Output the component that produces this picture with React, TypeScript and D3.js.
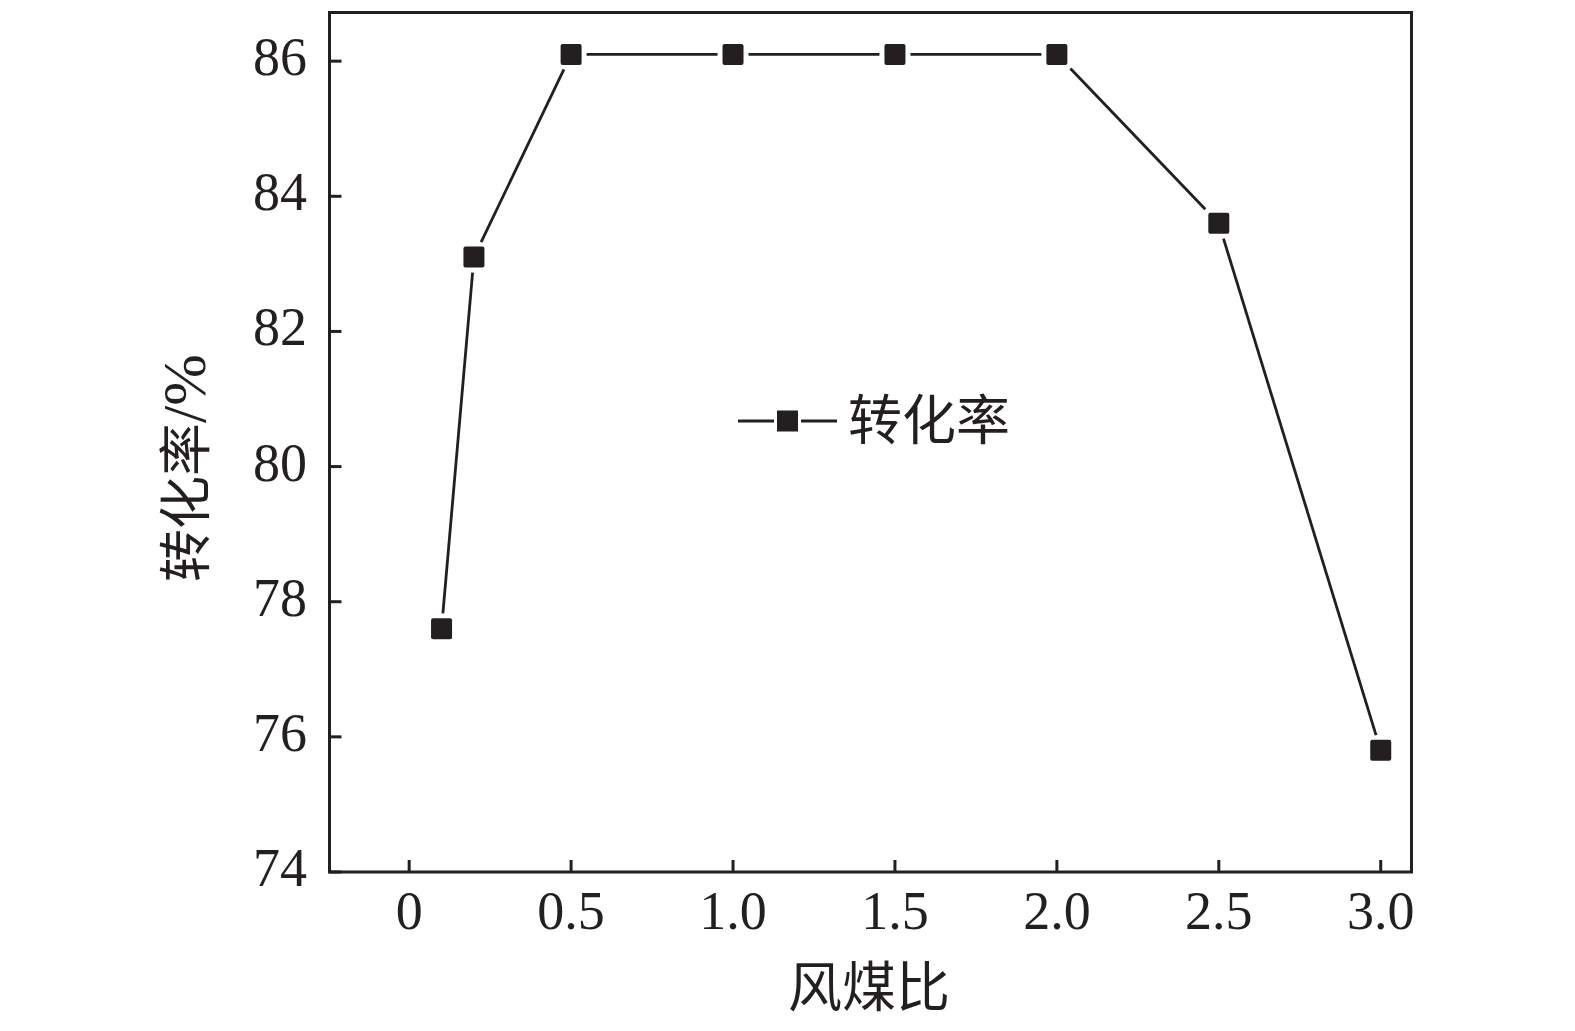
import React from "react";
import * as d3 from "d3";

const ratios = [0.1, 0.2, 0.5, 1.0, 1.5, 2.0, 2.5, 3.0];
const conversion = [77.6, 83.1, 86.1, 86.1, 86.1, 86.1, 83.6, 75.8];
const xTicks = [0, 0.5, 1.0, 1.5, 2.0, 2.5, 3.0];
const xTickLabels = ["0", "0.5", "1.0", "1.5", "2.0", "2.5", "3.0"];
const yTicks = [74, 76, 78, 80, 82, 84, 86];
const seriesName = "转化率";
const xTitle = "风煤比";
const yTitleMain = "转化率";
const yTitleUnit = "/%";

const W = 1575, H = 1031;
const left = 329.5, right = 1411.5, top = 12.5, bottom = 872;

export default function App() {
  const x = d3.scaleLinear().domain([-0.246, 3.095]).range([left, right]);
  const y = d3.scaleLinear().domain([74, 86.72]).range([bottom, top]);
  const pts = ratios.map((r, i) => [x(r), y(conversion[i])] as [number, number]);
  const ms = 21;
  const segs = pts.slice(1).map((p, i) => {
    const a = pts[i];
    const dx = p[0] - a[0], dy = p[1] - a[1];
    const len = Math.hypot(dx, dy);
    const ux = dx / len, uy = dy / len;
    const t = (ms / 2) / Math.max(Math.abs(ux), Math.abs(uy)) + 5;
    return [a[0] + ux * t, a[1] + uy * t, p[0] - ux * t, p[1] - uy * t];
  });
  const serif = "'Liberation Serif', 'Times New Roman', serif";
  const cjk = "'Noto Sans CJK SC', sans-serif";
  const col = "#231f20";
  const legY = 421;
  return (
    <svg width={W} height={H} style={{ position: "absolute", left: 0, top: 0, background: "#fff" }}>
      <rect x={0} y={0} width={W} height={H} fill="#fff" />
      <rect x={left} y={top} width={right - left} height={bottom - top} fill="none" stroke={col} strokeWidth={3} />
      {yTicks.map((t) => (
        <g key={"y" + t}>
          <line x1={left} x2={left + 12} y1={y(t)} y2={y(t)} stroke={col} strokeWidth={3} />
          <text x={307} y={y(t) + 14} textAnchor="end" fontFamily={serif} fontSize={54} fill={col}>{t}</text>
        </g>
      ))}
      {xTicks.map((t, i) => (
        <g key={"x" + t}>
          <line x1={x(t)} x2={x(t)} y1={bottom} y2={bottom - 12} stroke={col} strokeWidth={3} />
          <text x={x(t)} y={929} textAnchor="middle" fontFamily={serif} fontSize={54} fill={col}>{xTickLabels[i]}</text>
        </g>
      ))}
      {segs.map((s, i) => (
        <line key={"s" + i} x1={s[0]} y1={s[1]} x2={s[2]} y2={s[3]} stroke={col} strokeWidth={2.8} />
      ))}
      {pts.map((p, i) => (
        <rect key={"p" + i} x={p[0] - ms / 2} y={p[1] - ms / 2} width={ms} height={ms} rx={2} fill={col} />
      ))}
      <line x1={738} x2={774} y1={legY} y2={legY} stroke={col} strokeWidth={2.8} />
      <rect x={777} y={legY - 10.5} width={21} height={21} fill={col} />
      <line x1={801} x2={837} y1={legY} y2={legY} stroke={col} strokeWidth={2.8} />
      <text x={848} y={legY + 19} fontFamily={cjk} fontSize={54} fill={col}>{seriesName}</text>
      <text x={869} y={1007} textAnchor="middle" fontFamily={cjk} fontSize={54} fill={col}>{xTitle}</text>
      <text transform={`translate(205,468) rotate(-90)`} textAnchor="middle" fontFamily={cjk} fontSize={53} fill={col}>
        {yTitleMain}<tspan fontFamily={serif} fontSize={62}>{yTitleUnit}</tspan>
      </text>
    </svg>
  );
}
